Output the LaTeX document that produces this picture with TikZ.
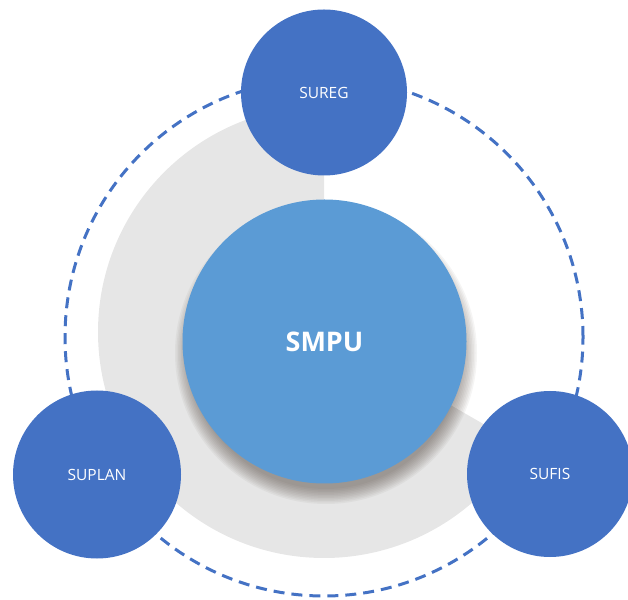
\documentclass[tikz,border=0pt]{standalone}
\usepackage{fontspec}
\setmainfont{Open Sans}
\definecolor{satblue}{HTML}{4472C4}
\definecolor{hubblue}{HTML}{5B9BD5}
\definecolor{sectorgray}{HTML}{E6E6E6}
\definecolor{shadowtone}{RGB}{80,68,60}
\tikzset{
  satellite/.style={circle, fill=satblue, draw=none, inner sep=0pt, minimum size=#1, text=white, font=\fontsize{15.5}{18}\selectfont},
  hub/.style={circle, fill=hubblue, draw=none, inner sep=0pt, minimum size=284pt, text=white, font=\fontsize{27}{32}\selectfont\bfseries},
  softshadow/.style={fill=shadowtone, opacity=0.055, draw=none},
  ring/.style={draw=satblue, line width=3pt, dash pattern=on 11pt off 7pt},
}
\begin{document}
\begin{tikzpicture}[x=1pt,y=1pt]
\useasboundingbox (0,0) rectangle (628,599);
% gray sector
\coordinate (sc) at (324,267);
\fill[sectorgray] (sc) -- ++(90:226) arc[start angle=90, end angle=330, radius=226] -- cycle;
% dashed ring
\coordinate (rc) at (324,262);
\draw[ring] (rc) circle[radius=259];
% satellites
\node[satellite=166pt] (sureg) at (324,506.5) {SUREG};
\node[satellite=168pt] (suplan) at (97,124.5) {SUPLAN};
\node[satellite=166pt] (sufis) at (550,125) {SUFIS};
% soft shadow of the hub
\coordinate (shc) at (326,246);
\foreach \r in {136,137.5,...,152} {
  \fill[softshadow] (shc) circle[radius=\r];
}
% hub
\node[hub] (smpu) at (324.5,257.5) {SMPU};
\end{tikzpicture}
\end{document}
